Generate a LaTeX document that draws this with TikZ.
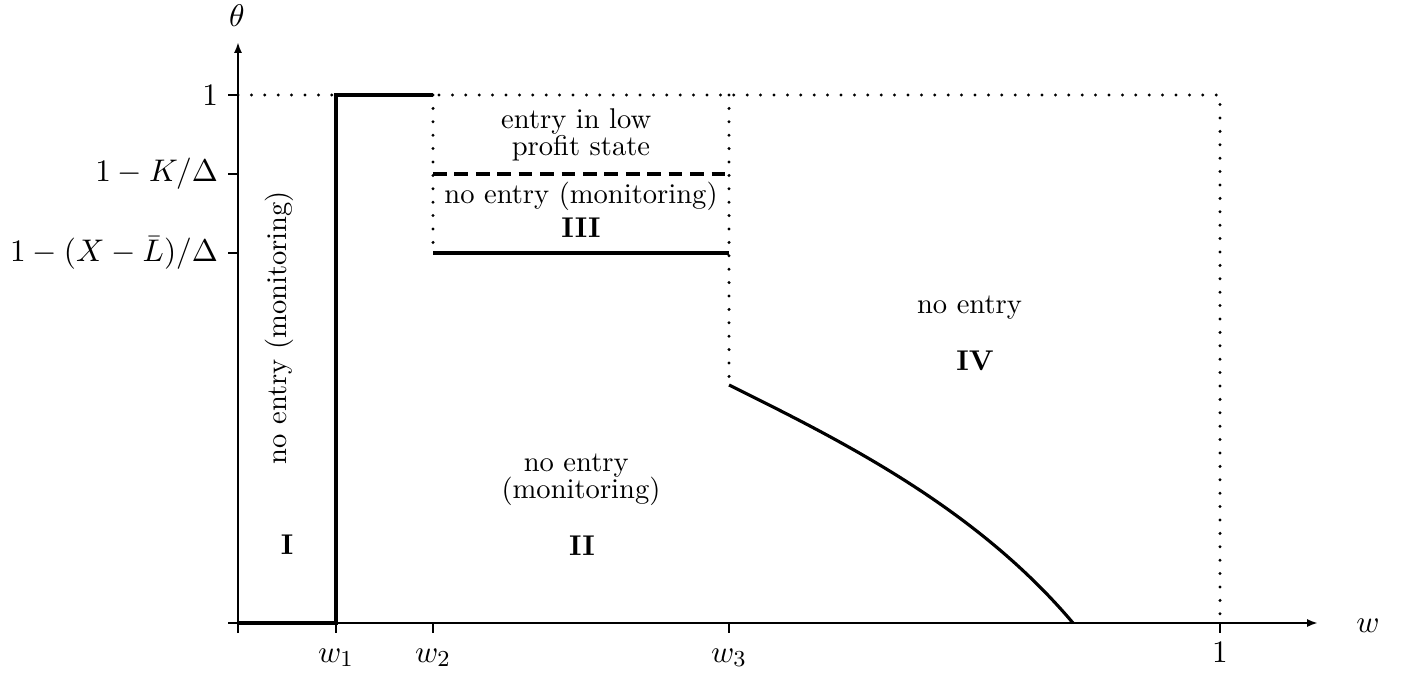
\documentclass[tikz,border=0pt]{standalone}
\usetikzlibrary{arrows.meta}
\begin{document}
\begin{tikzpicture}[x=0.35pt,y=-0.35pt,
  axisline/.style={line width=1pt,-{Latex[length=3.8pt,width=2.8pt]}},
  tickline/.style={line width=1pt},
  bound/.style={line width=1.2pt},
  solidline/.style={line width=1.1pt},
  dotline/.style={line width=1.15pt,line cap=round,dash pattern=on 0pt off 4.69pt},
  dashline/.style={line width=1.1pt,dash pattern=on 4.8pt off 2.7pt},
  txt/.style={inner sep=0pt,anchor=base},
  mlab/.style={inner sep=0pt,anchor=base,font=\fontsize{11}{13}\selectfont},
  twoline/.style={inner sep=0pt,anchor=north,align=center},
  ylab/.style={anchor=east,inner sep=3.33pt,font=\fontsize{11}{13}\selectfont},
]
\useasboundingbox (0,0) rectangle (1405,675);

% key points
\coordinate (O) at (238,623);
\coordinate (xs) at (228,623);
\coordinate (xe) at (1318,623);
\coordinate (ys) at (238,633);
\coordinate (ye) at (238,42);
\coordinate (w1b) at (336,623);
\coordinate (w1t) at (336,95);
\coordinate (w2t) at (433,95);
\coordinate (w2k) at (433,174);
\coordinate (w2x) at (433,253);
\coordinate (w3t) at (729,95);
\coordinate (w3k) at (729,174);
\coordinate (w3x) at (729,253);
\coordinate (w3c) at (729,385);
\coordinate (cz) at (1073,623);
\coordinate (onet) at (1220,95);
\coordinate (oneb) at (1220,623);
\coordinate (y1) at (238,95);

% dotted guide lines
\draw[dotline] (y1) -- (onet) -- (oneb);
\draw[dotline] (w2t) -- (w2x);
\draw[dotline] (w3t) -- (w3c);

% axes
\draw[axisline] (xs) -- (xe);
\draw[axisline] (ys) -- (ye);

% ticks
\foreach \x in {238,336,433,729,1220} \draw[tickline] (\x,623) -- (\x,633);
\foreach \y in {95,174,253} \draw[tickline] (228,\y) -- (238,\y);

% boundaries
\draw[bound] (O) -- (w1b) -- (w1t) -- (w2t);
\draw[dashline] (w2k) -- (w3k);
\draw[solidline] (w2x) -- (w3x);
\draw[solidline] (w3c) .. controls (840,440) and (975,507) .. (cz);

% axis labels
\node[mlab] (theta) at (237,27) {$\theta$};
\node[mlab] (wlab) at (1368,632) {$w$};
\node[mlab] (lw1) at (336,662) {$w_1$};
\node[mlab] (lw2) at (433,662) {$w_2$};
\node[mlab] (lw3) at (729,662) {$w_3$};
\node[mlab] (lone) at (1220,662) {$1$};
\node[ylab] (ly1) at (228,95) {$1$};
\node[ylab] (lyk) at (228,174) {$1-K/\Delta$};
\node[ylab] (lyx) at (228,253) {$1-(X-\bar{L})/\Delta$};

% region texts
\node[inner sep=0pt,rotate=90] (tI) at (279,327.5) {no entry (monitoring)};
\node[txt] (rI) at (287,554) {\textbf{I}};
\node[twoline] (tII) at (581,453.4) {no entry\hspace*{3.33pt}\\[-2.55pt](monitoring)};
\node[txt] (rII) at (582,555) {\textbf{II}};
\node[twoline] (tIIIa) at (581,108.2) {entry in low\hspace*{3.33pt}\\[-2.55pt]profit state};
\node[txt] (tIIIb) at (581,204) {no entry (monitoring)};
\node[txt] (rIII) at (581,237) {\textbf{III}};
\node[txt] (tIV) at (969.5,313) {no entry};
\node[txt] (rIV) at (975,370) {\textbf{IV}};
\end{tikzpicture}
\end{document}
